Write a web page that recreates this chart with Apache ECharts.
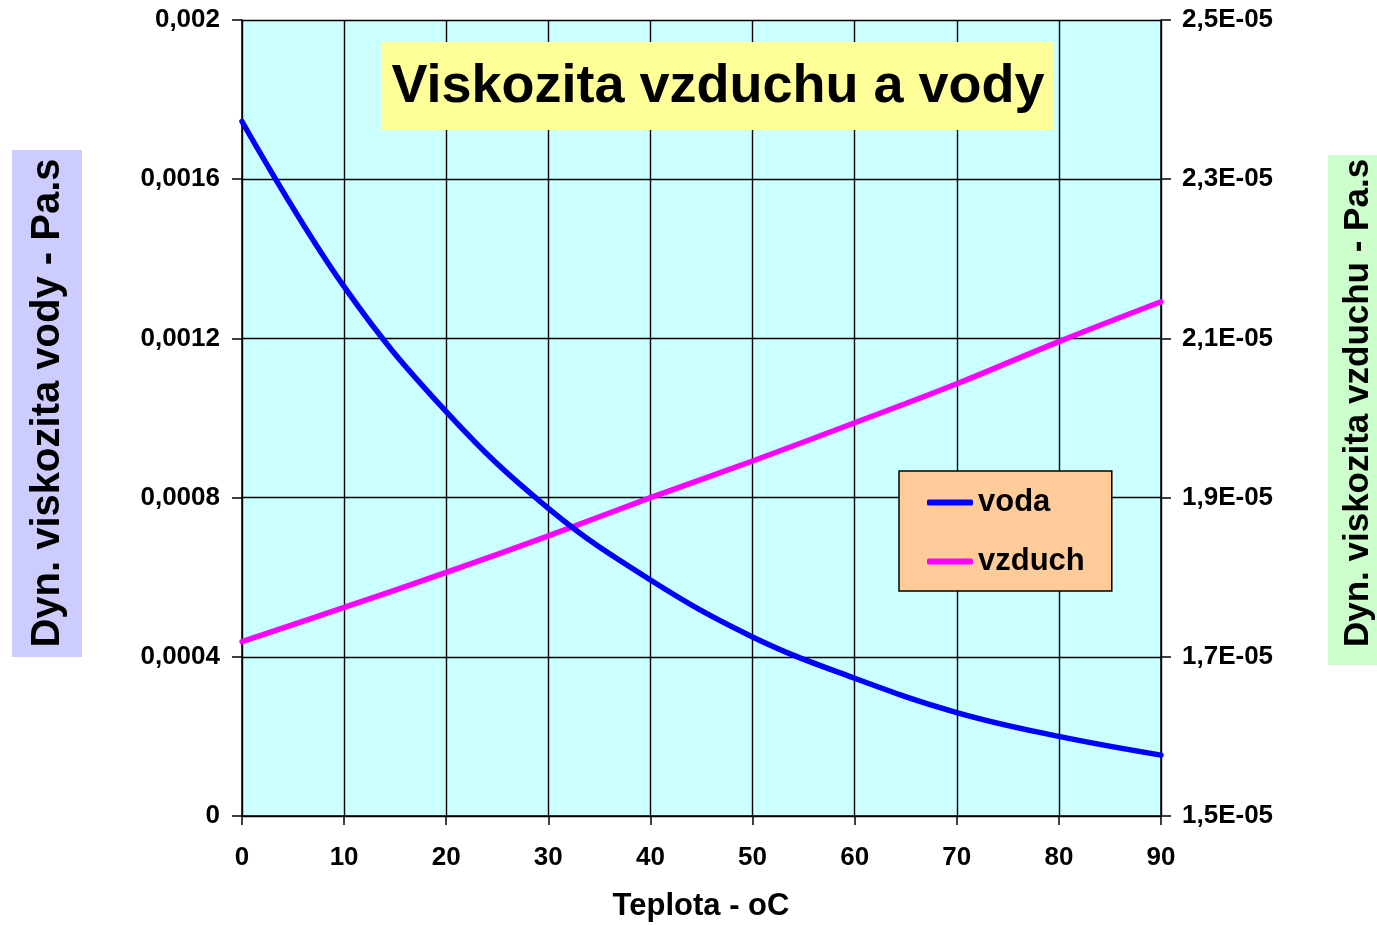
<!DOCTYPE html>
<html>
<head>
<meta charset="utf-8">
<title>Viskozita vzduchu a vody</title>
<script src="https://cdn.jsdelivr.net/npm/echarts@6/dist/echarts.min.js"></script>
<style>
  html, body { margin: 0; padding: 0; background: #ffffff; }
  #chart { width: 1377px; height: 925px; }
</style>
</head>
<body>
<div id="chart"></div>
<script>
// Teplota (°C)
const temperatures = [0, 10, 20, 30, 40, 50, 60, 70, 80, 90];
// Dynamická viskozita vody (Pa.s)
const waterViscosity = [0.001745, 0.00133, 0.001016, 0.000773, 0.000593, 0.000450, 0.000346, 0.000260, 0.000200, 0.000153];
// Dynamická viskozita vzduchu (Pa.s)
const airViscosity = [1.719e-5, 1.762e-5, 1.806e-5, 1.852e-5, 1.900e-5, 1.946e-5, 1.994e-5, 2.043e-5, 2.096e-5, 2.146e-5];

// Tick labels (Czech decimal comma)
const leftTickLabels = ['0', '0,0004', '0,0008', '0,0012', '0,0016', '0,002'];
const rightTickLabels = ['1,5E-05', '1,7E-05', '1,9E-05', '2,1E-05', '2,3E-05', '2,5E-05'];

const FONT = "'Liberation Sans', Arial, sans-serif";

const chart = echarts.init(document.getElementById('chart'), null, { renderer: 'canvas' });

const waterData = temperatures.map((t, i) => [t, waterViscosity[i]]);
const airData = temperatures.map((t, i) => [t, airViscosity[i]]);

const option = {
  backgroundColor: '#ffffff',
  animation: false,
  grid: {
    left: 242, right: 216, top: 20, bottom: 109,
    show: true,
    backgroundColor: '#CCFFFF',
    borderWidth: 0
  },
  legend: {
    orient: 'vertical',
    left: 899, top: 471,
    padding: [16, 27, 14, 28],
    itemGap: 28,
    itemWidth: 46,
    itemHeight: 6,
    backgroundColor: '#FFCC99',
    borderColor: '#000000',
    borderWidth: 1.5,
    borderRadius: 0,
    textStyle: { fontFamily: FONT, fontWeight: 'bold', fontSize: 31, color: '#000', lineHeight: 31 },
    data: [
      { name: 'voda', icon: 'roundRect' },
      { name: 'vzduch', icon: 'roundRect' }
    ]
  },
  xAxis: {
    type: 'value',
    min: 0, max: 90, interval: 10,
    axisLine: { show: true, lineStyle: { color: '#000', width: 1.5 } },
    axisTick: { show: true, inside: false, length: 9, lineStyle: { color: '#000', width: 1.5 } },
    axisLabel: { margin: 29, fontFamily: FONT, fontWeight: 'bold', fontSize: 26, color: '#000' },
    splitLine: { show: true, lineStyle: { color: '#000', width: 1.4 } }
  },
  yAxis: [
    {
      type: 'value',
      position: 'left',
      min: 0, max: 0.002, interval: 0.0004,
      axisLine: { show: true, lineStyle: { color: '#000', width: 1.5 } },
      axisTick: { show: true, inside: false, length: 10, lineStyle: { color: '#000', width: 1.5 } },
      axisLabel: {
        margin: 22, fontFamily: FONT, fontWeight: 'bold', fontSize: 26, color: '#000',
        padding: [3, 0, 0, 0],
        formatter: v => leftTickLabels[Math.round(v / 0.0004)]
      },
      splitLine: { show: true, lineStyle: { color: '#000', width: 1.4 } }
    },
    {
      type: 'value',
      position: 'right',
      min: 1.5e-5, max: 2.5e-5, interval: 0.2e-5,
      axisLine: { show: true, lineStyle: { color: '#000', width: 1.5 } },
      axisTick: { show: true, inside: false, length: 10, lineStyle: { color: '#000', width: 1.5 } },
      axisLabel: {
        margin: 21, fontFamily: FONT, fontWeight: 'bold', fontSize: 26, color: '#000',
        padding: [3, 0, 0, 0],
        formatter: v => rightTickLabels[Math.round((v - 1.5e-5) / 0.2e-5)]
      },
      splitLine: { show: false }
    }
  ],
  series: [
    {
      name: 'voda',
      type: 'line',
      yAxisIndex: 0,
      data: waterData,
      smooth: 0.4,
      showSymbol: false,
      color: '#0000FF',
      lineStyle: { color: '#0000FF', width: 5.5, cap: 'round' },
      z: 3
    },
    {
      name: 'vzduch',
      type: 'line',
      yAxisIndex: 1,
      data: airData,
      smooth: 0.4,
      showSymbol: false,
      color: '#FF00FF',
      lineStyle: { color: '#FF00FF', width: 5.5, cap: 'round' },
      z: 2
    }
  ],
  graphic: [
    // Title box
    {
      type: 'rect', left: 381, top: 42, z: 10,
      shape: { width: 673, height: 88 },
      style: { fill: '#FFFF99' }
    },
    {
      type: 'text', x: 718, y: 87, z: 11,
      style: {
        text: 'Viskozita vzduchu a vody',
        font: "bold 54px " + FONT,
        fill: '#000', align: 'center', verticalAlign: 'middle'
      }
    },
    // Left axis title
    {
      type: 'rect', left: 12, top: 150, z: 10,
      shape: { width: 70, height: 507 },
      style: { fill: '#CCCCFF' }
    },
    {
      type: 'text', x: 48, y: 403, rotation: Math.PI / 2, z: 11,
      style: {
        text: 'Dyn. viskozita vody - Pa.s',
        font: "bold 40px " + FONT,
        fill: '#000', align: 'center', verticalAlign: 'middle'
      }
    },
    // Right axis title
    {
      type: 'rect', left: 1328, top: 155, z: 10,
      shape: { width: 60, height: 510 },
      style: { fill: '#CCFFCC' }
    },
    {
      type: 'text', x: 1358, y: 403, rotation: Math.PI / 2, z: 11,
      style: {
        text: 'Dyn. viskozita vzduchu - Pa.s',
        font: "bold 35px " + FONT,
        fill: '#000', align: 'center', verticalAlign: 'middle'
      }
    },
    // X axis title
    {
      type: 'text', x: 701, y: 906, z: 11,
      style: {
        text: 'Teplota - oC',
        font: "bold 31px " + FONT,
        fill: '#000', align: 'center', verticalAlign: 'middle'
      }
    }
  ]
};

chart.setOption(option);
</script>
</body>
</html>
